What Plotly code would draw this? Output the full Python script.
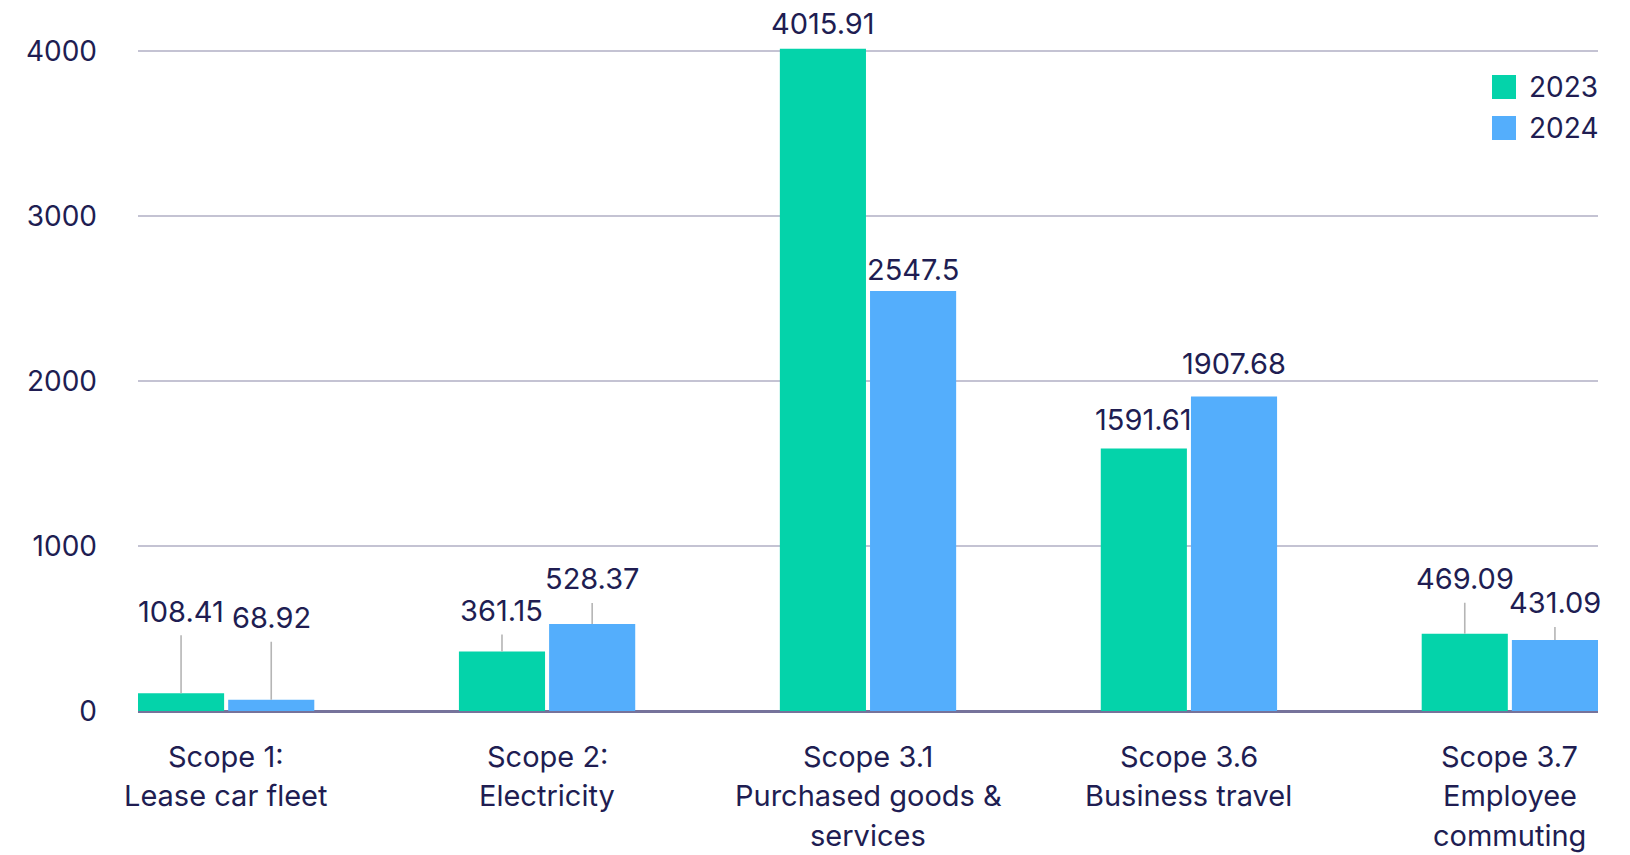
import plotly.graph_objects as go

# ---------------- data ----------------
categories = [
    "Scope 1:<br>Lease car fleet",
    "Scope 2:<br>Electricity",
    "Scope 3.1<br>Purchased goods &<br>services",
    "Scope 3.6<br>Business travel",
    "Scope 3.7<br>Employee<br>commuting",
]
series_names = ["2023", "2024"]
values_2023 = [108.41, 361.15, 4015.91, 1591.61, 469.09]
values_2024 = [68.92, 528.37, 2547.5, 1907.68, 431.09]
y_tick_values = [0, 1000, 2000, 3000, 4000]

# ---------------- label placement (style) ----------------
label_lift_2023 = [82, 41, 25, 29, 55]
label_lift_2024 = [82, 45, 21, 33, 37]
leader_2023 = [True, True, False, False, True]
leader_2024 = [True, True, False, False, True]

# ---------------- style ----------------
W, H = 1630, 855
FONT = "Inter"
TEXT = "#201d52"
GREEN = "#04d3aa"
BLUE = "#54aefc"
GRID = "#c4c3d3"
ZERO = "#76739b"
LEADER = "#b5b5b5"
FS = 28
FS_LBL = 29

BARGAP = 0.438
BARGROUPGAP = 0.045
slot = (1 - BARGAP) / 2
edge = slot - slot * BARGROUPGAP / 2
x_idx = list(range(len(categories)))

fig = go.Figure()
for name, vals, col in [(series_names[0], values_2023, GREEN),
                        (series_names[1], values_2024, BLUE)]:
    fig.add_trace(go.Bar(x=x_idx, y=vals, name=name, marker=dict(color=col, line=dict(width=0)),
                         showlegend=False, hoverinfo="skip"))

annotations = []
offset = slot / 2
for vals, lifts, leads, sgn in [(values_2023, label_lift_2023, leader_2023, -1),
                                (values_2024, label_lift_2024, leader_2024, 1)]:
    for i, v in enumerate(vals):
        xpos = i + sgn * offset
        txt = f"{v:g}"
        if leads[i]:
            annotations.append(dict(x=xpos, y=v, xref="x", yref="y", text=txt,
                                    showarrow=True, ax=0, ay=-lifts[i], arrowhead=0,
                                    arrowwidth=1.6, arrowcolor=LEADER, standoff=0,
                                    startstandoff=5,
                                    font=dict(family=FONT, size=FS_LBL, color=TEXT)))
        else:
            annotations.append(dict(x=xpos, y=v, xref="x", yref="y", text=txt,
                                    showarrow=False, yshift=lifts[i], yanchor="middle",
                                    xanchor="center",
                                    font=dict(family=FONT, size=FS_LBL, color=TEXT)))

# category labels below the axis, one line each (line spacing as in the original)
for i, cat in enumerate(categories):
    for k, line in enumerate(cat.split("<br>")):
        annotations.append(dict(x=i, y=0, xref="x", yref="y", text=line,
                                showarrow=False, xanchor="center", yanchor="middle",
                                yshift=-45 - 39.5 * k,
                                font=dict(family=FONT, size=FS_LBL, color=TEXT)))

# manual legend
shapes = []
legend_cols = [GREEN, BLUE]
for k, (name, col) in enumerate(zip(series_names, legend_cols)):
    cy = -52 - 41 * k
    shapes.append(dict(type="rect", xref="paper", yref="paper",
                       xsizemode="pixel", ysizemode="pixel", xanchor=1, yanchor=1,
                       x0=-106, x1=-82, y0=cy - 12, y1=cy + 12,
                       fillcolor=col, line=dict(width=0)))
    annotations.append(dict(x=1, y=1, xref="paper", yref="paper", xanchor="right",
                            yanchor="middle", xshift=2, yshift=cy, text=name,
                            showarrow=False, font=dict(family=FONT, size=FS, color=TEXT)))

fig.update_layout(
    width=W, height=H,
    margin=dict(l=138, r=32, t=35, b=144, pad=0),
    paper_bgcolor="white", plot_bgcolor="white",
    barmode="group", bargap=BARGAP, bargroupgap=BARGROUPGAP,
    font=dict(family=FONT, size=FS, color=TEXT),
    annotations=annotations, shapes=shapes,
    showlegend=False,
)
fig.update_xaxes(
    range=[-edge, len(categories) - 1 + edge],
    tickmode="array", tickvals=x_idx,
    showticklabels=False,
    showgrid=False, zeroline=False, showline=False, ticks="",
)
fig.update_yaxes(
    range=[0, 4100],
    tickmode="array", tickvals=y_tick_values,
    showgrid=True, gridcolor=GRID, gridwidth=2,
    zeroline=True, zerolinecolor=ZERO, zerolinewidth=2.5,
    showline=False, ticks="", ticklabelstandoff=40,
    tickfont=dict(family=FONT, size=FS, color=TEXT),
)

fig.write_html("out.html",
               config={"displayModeBar": False},
               post_script="document.body.style.margin='0';document.body.style.overflow='hidden';")
